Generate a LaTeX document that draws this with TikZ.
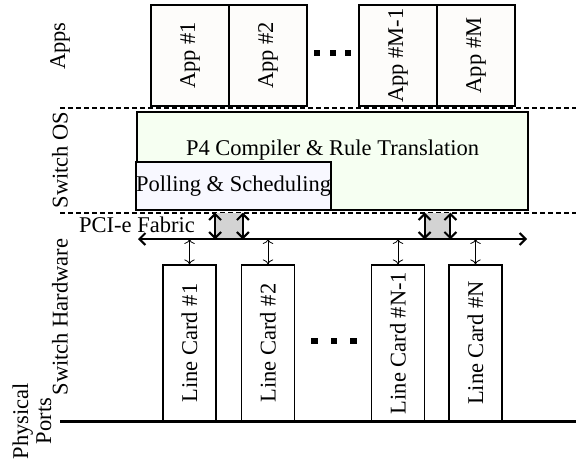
\documentclass[tikz,border=0pt]{standalone}
\usepackage{fontspec}
\setmainfont{Liberation Serif}
\usetikzlibrary{arrows.meta}

\definecolor{osgreen}{RGB}{246,255,242}
\definecolor{pollblue}{RGB}{248,248,255}
\definecolor{appwhite}{RGB}{253,252,250}
\definecolor{pcigray}{RGB}{211,211,211}

\begin{document}
\begin{tikzpicture}[
  x=0.5pt, y=-0.5pt,
  >={To},
  every node/.style={font=\fontsize{11.25pt}{13pt}\selectfont},
  blk/.style={draw, line width=0.6pt, inner sep=0pt},
  app/.style={blk, fill=appwhite, rotate=90,
              minimum width=50.5pt, minimum height=39pt},
  card/.style={blk, fill=white, rotate=90,
               minimum width=78pt, minimum height=26.5pt},
  layer/.style={rotate=90, align=center, inner sep=0pt},
  sqdot/.style={fill, minimum size=3.4pt, inner sep=0pt},
  sep/.style={line width=1.2pt, dash pattern=on 2.5pt off 1.5pt},
  pci/.style={fill=pcigray, minimum height=13pt, inner sep=0pt},
  barb/.style={{Straight Barb[length=3pt,width=6pt]}-{Straight Barb[length=3pt,width=6pt]},
               line width=1pt},
]
  \useasboundingbox (0,0) rectangle (576,461);

  % Layer names on the left
  \node[layer] (lapps) at (60,46) {Apps};
  \node[layer] (los) at (60,160) {Switch OS};
  \node[layer] (lhw) at (60,317) {Switch Hardware};
  \node[layer, font=\fontsize{11.25pt}{11.5pt}\selectfont] (lports) at (32,421) {Physical\\Ports};

  % Applications
  \node[app] (app1) at (190,55.5) {App \#1};
  \node[app] (app2) at (268,55.5) {App \#2};
  \node[app] (appm1) at (398,55.5) {App \#M-1};
  \node[app] (appm) at (476,55.5) {App \#M};
  \foreach \x [count=\i] in {317,333,348}
    \node[sqdot] (adot\i) at (\x,53) {};

  % Layer separators
  \coordinate (sepa) at (60,108);
  \coordinate (sepae) at (576,108);
  \coordinate (sepb) at (60,213);
  \coordinate (sepbe) at (576,213);
  \draw[sep] (sepa) -- (sepae);
  \draw[sep] (sepb) -- (sepbe);

  % Switch OS
  \node[blk, fill=osgreen, minimum width=195.5pt, minimum height=49pt] (os) at (332.5,161) {};
  \node (p4) at (332.5,150) {P4 Compiler \& Rule Translation};
  \node[blk, fill=pollblue, minimum width=96.5pt, minimum height=24pt] (poll) at (233.5,186) {Polling \& Scheduling};

  % PCI-e fabric
  \node (fabric) at (137,225) {PCI-e Fabric};
  \coordinate (busw) at (138,239);
  \coordinate (buse) at (527,239);
  \node[pci, minimum width=13.5pt] (pci1) at (229,226) {};
  \node[pci, minimum width=12.5pt] (pci2) at (437.5,226) {};
  \draw[barb] (busw) -- (buse);
  \foreach \g in {pci1,pci2} {
    \draw[barb] (\g.north west) -- (\g.south west);
    \draw[barb] (\g.north east) -- (\g.south east);
  }

  % Line cards
  \node[card] (lc1) at (189.5,343) {Line Card \#1};
  \node[card] (lc2) at (268,343) {Line Card \#2};
  \node[card] (lcn1) at (398,343) {Line Card \#N-1};
  \node[card] (lcn) at (475.5,343) {Line Card \#N};
  \foreach \c in {lc1,lc2,lcn1,lcn}
    \draw[<->, line width=0.4pt] (\c.east |- busw) -- (\c.east);
  \foreach \x [count=\i] in {314.5,334,353.5}
    \node[sqdot] (ldot\i) at (\x,341) {};

  % Physical ports
  \coordinate (gndw) at (60,421);
  \coordinate (gnde) at (576,421);
  \draw[line width=1.5pt] (gndw) -- (gnde);
\end{tikzpicture}
\end{document}
